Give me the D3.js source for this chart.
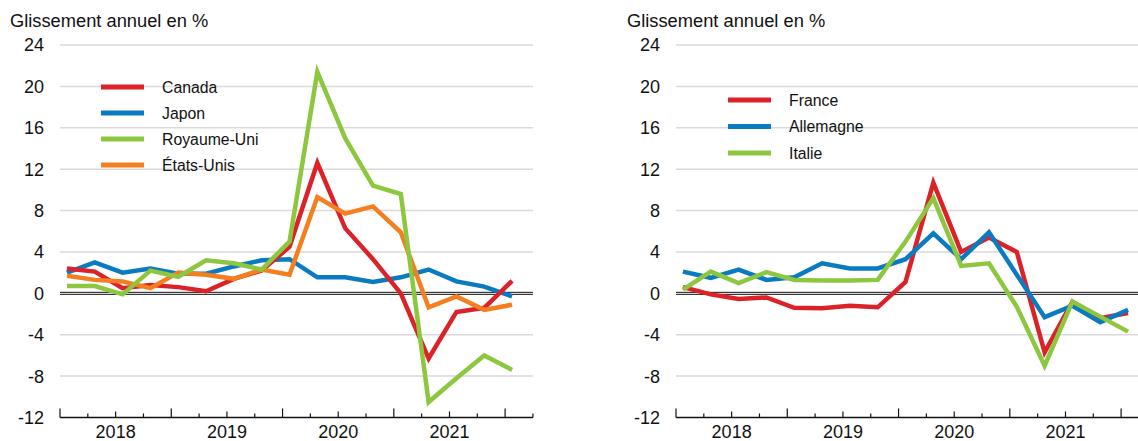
<!DOCTYPE html>
<html>
<head>
<meta charset="utf-8">
<script src="https://cdn.jsdelivr.net/npm/d3@7"></script>
<style>
  html, body { margin: 0; padding: 0; background: #fff; }
  svg { display: block; font-family: "Liberation Sans", Arial, sans-serif; }
</style>
</head>
<body>
<svg id="chart" width="1138" height="441"></svg>
<script>
// ── Data: annual change in %, quarterly, 2018Q1 → 2022Q1 ──
const quarters = d3.range(17);
const years = ['2018', '2019', '2020', '2021'];
const yTicks = [-12, -8, -4, 0, 4, 8, 12, 16, 20, 24];

const canada   = [2.4, 2.1, 0.5, 0.8, 0.6, 0.2, 1.4, 2.2, 4.5, 12.6, 6.3, 3.3, 0.0, -6.3, -1.8, -1.4, 1.2];
const japon    = [2.0, 3.0, 2.0, 2.4, 1.9, 1.9, 2.6, 3.2, 3.3, 1.55, 1.55, 1.1, 1.55, 2.3, 1.15, 0.65, -0.3];
const royUni   = [0.7, 0.7, -0.1, 2.2, 1.6, 3.2, 2.9, 2.3, 5.0, 21.4, 15.0, 10.4, 9.6, -10.5, -8.2, -6.0, -7.4];
const etatsUnis= [1.7, 1.3, 1.15, 0.5, 2.0, 1.8, 1.4, 2.3, 1.8, 9.3, 7.7, 8.4, 5.9, -1.35, -0.3, -1.6, -1.1];

const france    = [0.6, -0.1, -0.55, -0.4, -1.4, -1.45, -1.2, -1.35, 1.1, 10.7, 4.0, 5.4, 4.0, -5.7, -0.8, -2.4, -1.9];
const allemagne = [2.1, 1.5, 2.3, 1.3, 1.55, 2.9, 2.4, 2.4, 3.3, 5.8, 3.3, 5.9, 1.8, -2.3, -1.2, -2.8, -1.6];
const italie    = [0.35, 2.1, 1.0, 2.05, 1.3, 1.25, 1.25, 1.3, 5.0, 9.2, 2.65, 2.9, -1.3, -7.0, -0.8, -2.25, -3.7];

const RED = '#dc2229', BLUE = '#0b7bc1', GREEN = '#8dc63f', ORANGE = '#f47f21';

const panels = [
  {
    x0: 60, titleX: 10, labelRight: 44,
    series: [
      { name: 'Canada', values: canada, color: RED },
      { name: 'Japon', values: japon, color: BLUE },
      { name: 'Royaume-Uni', values: royUni, color: GREEN },
      { name: 'États-Unis', values: etatsUnis, color: ORANGE }
    ],
    // draw order (top last)
    order: [1, 0, 3, 2],
    legend: { x: 101, y: 87, step: 26, textX: 162 }
  },
  {
    x0: 676, titleX: 627, labelRight: 660,
    series: [
      { name: 'France', values: france, color: RED },
      { name: 'Allemagne', values: allemagne, color: BLUE },
      { name: 'Italie', values: italie, color: GREEN }
    ],
    order: [0, 1, 2],
    legend: { x: 728, y: 100, step: 26.5, textX: 789 }
  }
];

const svg = d3.select('#chart');
const Q = 27.82;                     // px per quarter
const y = d3.scaleLinear().domain([-12, 24]).range([417.5, 45]);

panels.forEach(p => {
  const x = d3.scaleLinear().domain([-0.25, 16.75]).range([p.x0, p.x0 + 17 * Q]);
  const g = svg.append('g');
  const xEnd = Math.min(x(16.75), 1138);

  // title
  g.append('text')
    .attr('x', p.titleX).attr('y', 27)
    .attr('font-size', 18.3).attr('fill', '#111')
    .text('Glissement annuel en %');

  // grid
  g.selectAll('line.grid')
    .data(yTicks.filter(v => v !== 0 && v !== -12))
    .join('line')
    .attr('class', 'grid')
    .attr('x1', p.x0).attr('x2', xEnd)
    .attr('y1', d => y(d)).attr('y2', d => y(d))
    .attr('stroke', '#d9d9d9').attr('stroke-width', 1.5);

  // y labels
  g.selectAll('text.ylab')
    .data(yTicks)
    .join('text')
    .attr('class', 'ylab')
    .attr('x', p.labelRight).attr('y', d => y(d))
    .attr('dy', '0.36em')
    .attr('text-anchor', 'end')
    .attr('font-size', 18).attr('fill', '#111')
    .text(d => d);

  // zero line (double)
  [-1, 1].forEach(o => {
    g.append('line')
      .attr('x1', p.x0).attr('x2', xEnd)
      .attr('y1', y(0) + o).attr('y2', y(0) + o)
      .attr('stroke', '#111').attr('stroke-width', 1);
  });

  // x axis
  const axisY = y(-12);
  g.append('line')
    .attr('x1', p.x0).attr('x2', xEnd)
    .attr('y1', axisY).attr('y2', axisY)
    .attr('stroke', '#111').attr('stroke-width', 1.3);

  g.selectAll('line.tick')
    .data(d3.range(18))
    .join('line')
    .attr('class', 'tick')
    .attr('x1', d => x(d - 0.25)).attr('x2', d => x(d - 0.25))
    .attr('y1', axisY)
    .attr('y2', d => axisY - (d % 4 === 0 ? 9 : (d % 4 === 2 ? 6 : 4)))
    .attr('stroke', '#111').attr('stroke-width', 1.2);

  g.selectAll('text.year')
    .data(years)
    .join('text')
    .attr('class', 'year')
    .attr('x', (d, i) => x(i * 4 + 1.75))
    .attr('y', 438)
    .attr('text-anchor', 'middle')
    .attr('font-size', 18).attr('fill', '#111')
    .text(d => d);

  // lines
  const line = d3.line()
    .x((d, i) => x(quarters[i]))
    .y(d => y(d))
    .curve(d3.curveLinear);

  p.order.forEach(k => {
    const s = p.series[k];
    g.append('path')
      .datum(s.values)
      .attr('d', line)
      .attr('fill', 'none')
      .attr('stroke', s.color)
      .attr('stroke-width', 4.5)
      .attr('stroke-linejoin', 'miter');
  });

  // legend
  const L = p.legend;
  p.series.forEach((s, i) => {
    const ly = L.y + i * L.step;
    g.append('line')
      .attr('x1', L.x).attr('x2', L.x + 43)
      .attr('y1', ly).attr('y2', ly)
      .attr('stroke', s.color).attr('stroke-width', 5);
    g.append('text')
      .attr('x', L.textX).attr('y', ly)
      .attr('dy', '0.35em')
      .attr('font-size', 15.8).attr('fill', '#111')
      .text(s.name);
  });
});
</script>
</body>
</html>
